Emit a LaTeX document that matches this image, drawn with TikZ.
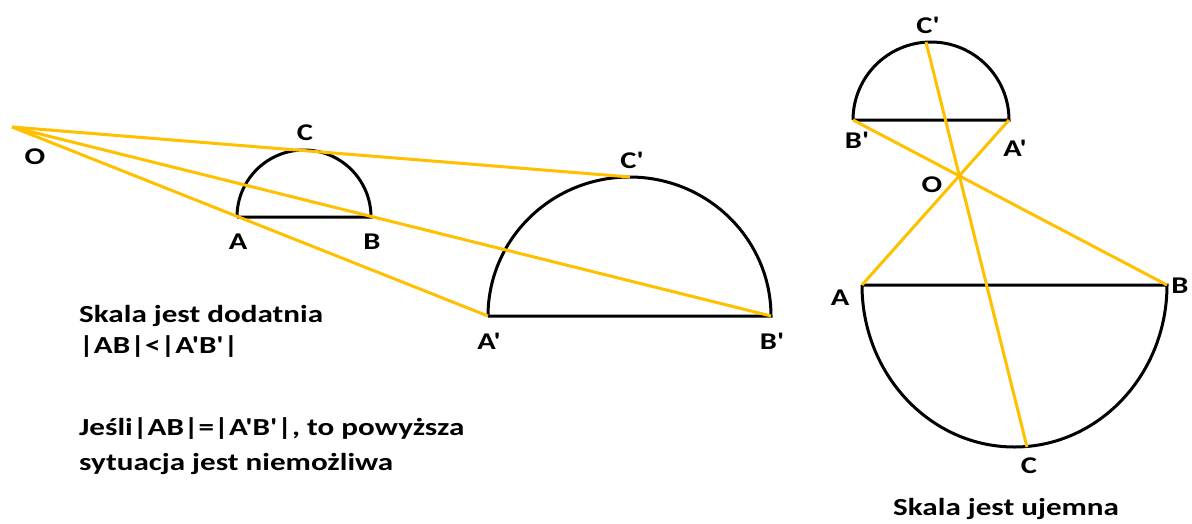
\documentclass[tikz,border=0pt]{standalone}
\usepackage{graphicx}
\usepackage{fontspec}
\newfontfamily\cf{Carlito}
\newcommand{\widetxt}[1]{\scalebox{1.27}[1]{#1}}
\definecolor{gold}{RGB}{255,192,0}
\tikzset{
  fig/.style={line width=3pt, black},
  ray/.style={line width=3pt, gold},
  lbl/.style={font=\cf\bfseries\fontsize{24}{28}\selectfont, inner sep=0pt},
  txt/.style={font=\cf\bfseries\fontsize{24.5}{28}\selectfont, inner sep=0pt, anchor=base west}
}
\begin{document}
\begin{tikzpicture}[x=1pt,y=-1pt]
\useasboundingbox[fill=white] (0,0) rectangle (1192,523);
% left figure points
\coordinate (O) at (12,127);
\coordinate (A) at (237,217);
\coordinate (B) at (371,217);
\coordinate (C) at (304,150);
\coordinate (Ap) at (488,316);
\coordinate (Bp) at (771,316);
\coordinate (Cp) at (630,177);
% semicircles
\draw[fig] (A) -- (B) arc[start angle=0, end angle=-180, radius=67];
\draw[fig] (Ap) -- (Bp) arc[start angle=0, end angle=-180, x radius=141.5, y radius=139];
% rays
\draw[ray] (O) -- (Cp);
\draw[ray] (O) -- (Bp);
\draw[ray] (O) -- (Ap);
% labels
\node[lbl] (lO) at (35,157) {\widetxt{O}};
\node[lbl] (lA) at (238,242) {\widetxt{A}};
\node[lbl] (lB) at (372,242) {\widetxt{B}};
\node[lbl] (lC) at (305,133) {\widetxt{C}};
\node[lbl] (lCp) at (632,160) {\widetxt{C'}};
\node[lbl] (lAp) at (489,341) {\widetxt{A'}};
\node[lbl] (lBp) at (772,341) {\widetxt{B'}};
% right figure
\coordinate (rBp) at (853,120);
\coordinate (rAp) at (1009,120);
\coordinate (rCp) at (926,42);
\coordinate (rA) at (862,285);
\coordinate (rB) at (1167,285);
\coordinate (rC) at (1027,447);
\coordinate (rO) at (959,174);
\draw[fig] (rBp) -- (rAp) arc[start angle=0, end angle=-180, radius=78];
\draw[fig] (rA) -- (rB) arc[start angle=0, end angle=180, x radius=152.5, y radius=162];
\draw[ray] (rAp) -- (rA);
\draw[ray] (rBp) -- (rB);
\draw[ray] (rCp) -- (rC);
\node[lbl] (rlCp) at (928,25) {\widetxt{C'}};
\node[lbl] (rlBp) at (857,140) {\widetxt{B'}};
\node[lbl] (rlAp) at (1015,148) {\widetxt{A'}};
\node[lbl] (rlO) at (932,185) {\widetxt{O}};
\node[lbl] (rlA) at (840,298) {\widetxt{A}};
\node[lbl] (rlB) at (1180,286) {\widetxt{B}};
\node[lbl] (rlC) at (1029,466) {\widetxt{C}};
% texts
\node[txt] (t1) at (79,322) {\widetxt{Skala jest dodatnia}};
\node[txt] (t2) at (79,353) {\widetxt{|AB|<|A'B'|}};
\node[txt] (t3) at (79,435) {\widetxt{Jeśli|AB|=|A'B'|, to powyższa}};
\node[txt] (t4) at (79,470) {\widetxt{sytuacja jest niemożliwa}};
\node[txt] (t5) at (893,515) {\widetxt{Skala jest ujemna}};
\end{tikzpicture}
\end{document}
